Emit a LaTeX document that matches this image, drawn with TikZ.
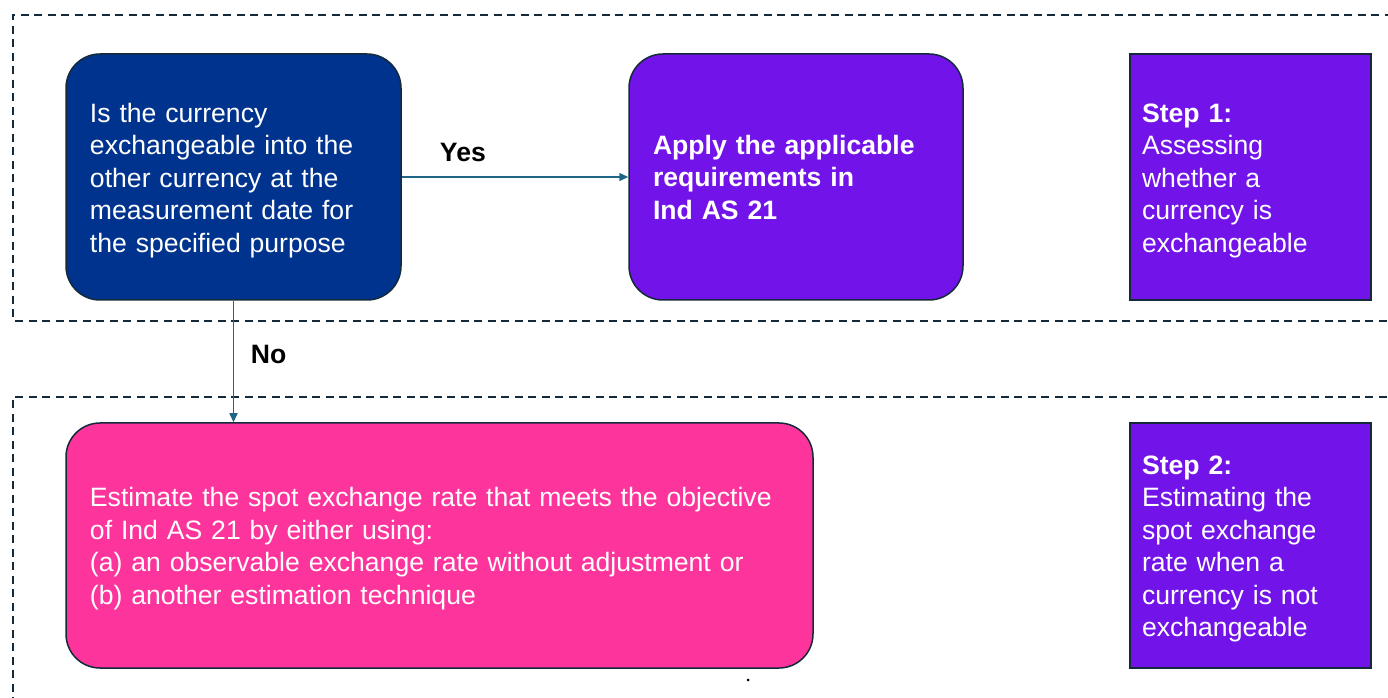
\documentclass[tikz,border=0pt]{standalone}
\usepackage{fontspec}
\setmainfont{Liberation Sans}
\usetikzlibrary{arrows.meta, positioning}
\definecolor{deepblue}{HTML}{00338D}
\definecolor{brightpurple}{HTML}{7213EA}
\definecolor{hotpink}{HTML}{FD349C}
\definecolor{linkteal}{HTML}{1F6587}
\definecolor{edgedark}{HTML}{14293A}

\tikzset{
  box/.style={draw=edgedark, line width=0.75pt, text=white, align=left,
    font=\fontsize{13.3}{16.25}\selectfont, inner ysep=0pt},
  lifted/.style={execute at begin node={\rule{0pt}{13pt}}},
  roundbox/.style={box, rounded corners=17pt, inner xsep=12pt,
    text width=143.5pt, minimum height=123pt},
  stepbox/.style={box, lifted, fill=brightpurple, inner xsep=6pt,
    text width=108.5pt, minimum height=123pt},
  frame/.style={draw=edgedark, line width=1pt, dash pattern=on 4pt off 2.75pt},
  link/.style={draw=linkteal, line width=0.75pt, -{Triangle[length=4.5pt,width=4pt]}},
  answer/.style={font=\bfseries\fontsize{13.3}{16}\selectfont}
}

\begin{document}
\begin{tikzpicture}[x=0.5pt, y=0.5pt]
\useasboundingbox (0,0) rectangle (1388,697);

% --- layout helpers ---
\def\rowA{520}    % step 1 row y
\def\rowB{151.5}  % step 2 row y
\def\stepx{1250.5}

% --- dashed frames, open past the page edge ---
\draw[frame] (1400,376) -- (13,376) -- (13,682) -- (1400,682);
\draw[frame] (1400,300) -- (13,300) -- (13,-10);

% --- step 1: is it exchangeable? ---
\node[roundbox, lifted, fill=deepblue] (query) at (233.5,\rowA)
  {Is the currency\\exchangeable into the\\other currency at the\\measurement date for\\the specified purpose};
\node[roundbox, fill=brightpurple, text width=143pt,
  font=\bfseries\fontsize{13.3}{16.25}\selectfont]
  (apply) at (796,\rowA) {Apply the applicable\\requirements in\\Ind AS 21};
\node[stepbox] (stepone) at (\stepx,\rowA)
  {\textbf{Step 1:}\\Assessing\\whether a\\currency is\\exchangeable};

% --- step 2: estimate the rate ---
\node[roundbox, lifted, fill=hotpink, text width=349.5pt, minimum height=122.5pt] (estimate) at (439.5,\rowB)
  {Estimate the spot exchange rate that meets the objective\\of Ind AS 21 by either using:\\(a) an observable exchange rate without adjustment or\\(b) another estimation technique};
\node[stepbox, minimum height=122.5pt] (steptwo) at (\stepx,\rowB)
  {\textbf{Step 2:}\\Estimating the\\spot exchange\\rate when a\\currency is not\\exchangeable};

% --- decisions ---
\draw[link] (query) -- (apply) node[answer, pos=0.27, above=4pt] {Yes};
\draw[link] (query.south) -- (query.south |- estimate.north)
  node[answer, pos=0.44, right=5pt] {No};

\fill[black] (748,17) circle (1.5);

\end{tikzpicture}
\end{document}
